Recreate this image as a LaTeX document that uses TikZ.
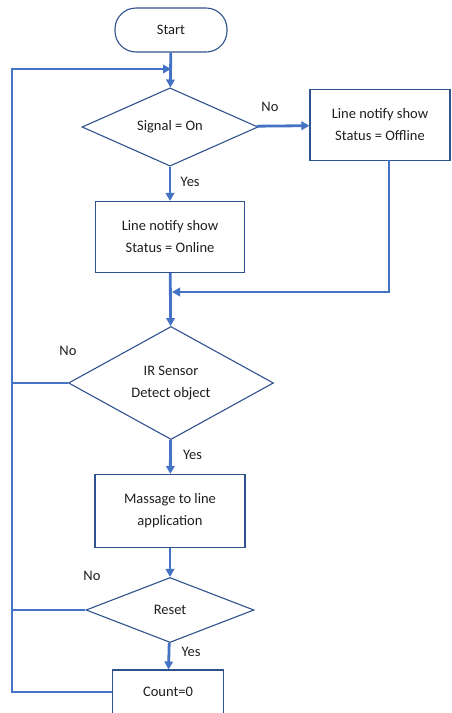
\documentclass[tikz,border=0pt]{standalone}
\usepackage{fontspec}
\setmainfont{Carlito}
\usetikzlibrary{shapes.geometric,arrows.meta}
\definecolor{flowblue}{HTML}{4472C4}
\definecolor{edgenavy}{HTML}{2F528F}
\definecolor{inkgray}{HTML}{1E1E1E}

\tikzset{
  shapebase/.style={draw=edgenavy,line width=1.1pt,align=center,inner sep=0pt,
    text=inkgray,font=\fontsize{14.5}{22}\selectfont},
  terminal/.style={shapebase,rectangle,rounded corners=21pt},
  process/.style={shapebase,rectangle},
  decision/.style={shapebase,diamond},
  flow/.style={draw=flowblue,line width=2.8pt,-{Triangle[length=8pt,width=8.5pt]}},
  flowline/.style={draw=flowblue,line width=2.8pt},
  answer/.style={text=inkgray,font=\fontsize{14.5}{16}\selectfont}
}

\begin{document}
\begin{tikzpicture}[x=1pt,y=-1pt]
  \useasboundingbox (0,0) rectangle (451,713);

  \node[terminal,minimum width=112pt,minimum height=44pt] (start) at (171,30) {Start};
  \node[decision,minimum width=176pt,minimum height=71pt] (signal) at (170,127) {Signal = On};
  \node[process,minimum width=140pt,minimum height=71pt] (offline) at (380,125)
      {Line notify show\\Status = Offline};
  \node[process,minimum width=149pt,minimum height=71pt] (online) at (170,237)
      {Line notify show\\Status = Online};
  \node[decision,minimum width=205pt,minimum height=98pt] (sensor) at (171,383)
      {IR Sensor\\Detect object};
  \node[process,minimum width=150pt,minimum height=73pt] (message) at (170,511)
      {Massage to line\\application};
  \node[decision,minimum width=168pt,minimum height=65pt] (reset) at (170,610) {Reset};
  \node[process,minimum width=111pt,minimum height=44pt] (count) at (168,692) {Count=0};

  \coordinate (loopL) at (12,692);
  \coordinate (join1) at (171,69);
  \coordinate (join2) at (172,292);
  \coordinate (offdrop) at (389,160);

  % main line
  \draw[flow] (start) -- (signal);
  \draw[flow] (signal) -- (online) node[answer,pos=0.45,right=6pt] {Yes};
  \draw[flow] (signal) -- (offline) node[answer,pos=0.25,above=10pt] {No};
  \draw[flow] (online) -- (sensor);
  \draw[flow] (sensor) -- (message) node[answer,pos=0.45,right=8pt] {Yes};
  \draw[flow] (message) -- (reset);
  \draw[flow] (reset) -- (count) node[answer,pos=0.35,right=8pt] {Yes};

  % returns
  \draw[flow] (offdrop) |- (join2);
  \draw[flow] (count.west) -| (loopL) |- (join1);
  \draw[flowline] (sensor.west) -- (sensor.west -| loopL);
  \draw[flowline] (reset.west) -- (reset.west -| loopL);

  \node[answer] (nosensor) at (68,351) {No};
  \node[answer] (noreset) at (92,576) {No};
\end{tikzpicture}
\end{document}
